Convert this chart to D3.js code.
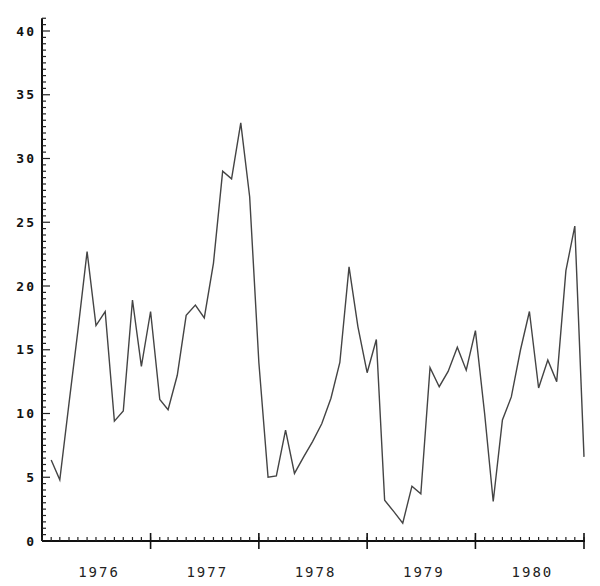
<!DOCTYPE html>
<html>
<head>
<meta charset="utf-8">
<script src="https://cdn.jsdelivr.net/npm/d3@7"></script>
<style>
  html, body { margin: 0; padding: 0; background: #fff; }
  svg { display: block; }
</style>
</head>
<body>
<svg id="chart" width="600" height="586"></svg>
<script>
// ---- data ----
const startYear = 1976;
const yearLabels = ["1976", "1977", "1978", "1979", "1980"];
const yTickLabels = [0, 5, 10, 15, 20, 25, 30, 35, 40];
// monthly values, Jan 1976 .. Dec 1980
const values = [
  6.35, 4.8, 10.8, 16.5, 22.7, 16.9, 18.0, 9.4, 10.2, 18.9, 13.7, 18.0,
  11.1, 10.3, 13.0, 17.7, 18.5, 17.5, 21.8, 29.0, 28.4, 32.8, 27.0, 14.0,
  5.0, 5.1, 8.7, 5.3, 6.6, 7.8, 9.2, 11.2, 14.0, 21.5, 16.8, 13.2,
  15.8, 3.2, 2.3, 1.4, 4.3, 3.7, 13.6, 12.1, 13.3, 15.2, 13.4, 16.5,
  10.0, 3.1, 9.5, 11.3, 15.0, 18.0, 12.0, 14.2, 12.5, 21.2, 24.7, 6.6
];

const svg = d3.select("#chart");

const x = d3.scaleTime()
  .domain([new Date(startYear, 0, 1), new Date(startYear + yearLabels.length, 0, 1)])
  .range([42, 584]);
const y = d3.scaleLinear().domain([0, 40]).range([541, 31]);

const data = values.map((v, i) => ({ date: new Date(startYear, i + 1, 1), v }));

// ---- Y axis ----
const yAxisG = svg.append("g").attr("transform", `translate(${x.range()[0]},0)`);
yAxisG.append("line")
  .attr("x1", 0).attr("x2", 0)
  .attr("y1", y(0)).attr("y2", y(41))
  .attr("stroke", "#111").attr("stroke-width", 2);
const minorY = d3.range(0, 41.01, 0.5);
yAxisG.selectAll("line.ym").data(minorY).enter().append("line")
  .attr("class", "ym")
  .attr("x1", 0)
  .attr("x2", d => (d % 5 === 0 ? 8 : 4))
  .attr("y1", d => y(d)).attr("y2", d => y(d))
  .attr("stroke", "#222").attr("stroke-width", 1.2);

svg.append("g").selectAll("text").data(yTickLabels).enter().append("text")
  .attr("x", 36)
  .attr("y", d => y(d))
  .attr("dy", "0.36em")
  .attr("text-anchor", "end")
  .attr("font-family", "DejaVu Sans Mono, monospace")
  .attr("font-weight", "bold")
  .attr("font-size", 13)
  .attr("letter-spacing", 2)
  .attr("fill", "#111")
  .text(d => d);

// ---- X axis ----
const xAxisG = svg.append("g");
xAxisG.append("line")
  .attr("x1", x.range()[0]).attr("x2", x.range()[1] + 1)
  .attr("y1", y(0)).attr("y2", y(0))
  .attr("stroke", "#111").attr("stroke-width", 2);
const months = d3.timeMonth.range(x.domain()[0], d3.timeMonth.offset(x.domain()[1], 1));
xAxisG.selectAll("line.xm").data(months).enter().append("line")
  .attr("class", "xm")
  .attr("x1", d => x(d)).attr("x2", d => x(d))
  .attr("y1", y(0)).attr("y2", y(0) - 4)
  .attr("stroke", "#222").attr("stroke-width", 1.2);
const years = d3.timeYear.range(d3.timeYear.offset(x.domain()[0], 1), d3.timeYear.offset(x.domain()[1], 1));
xAxisG.selectAll("line.xy").data(years).enter().append("line")
  .attr("class", "xy")
  .attr("x1", d => x(d)).attr("x2", d => x(d))
  .attr("y1", y(0) - 8).attr("y2", y(0) + 8)
  .attr("stroke", "#111").attr("stroke-width", 1.6);

svg.append("g").selectAll("text").data(yearLabels).enter().append("text")
  .attr("x", (d, i) => x(new Date(startYear + i, 6, 1)) + 3)
  .attr("y", 577)
  .attr("text-anchor", "middle")
  .attr("font-family", "DejaVu Sans Mono, monospace")
  .attr("font-size", 14)
  .attr("letter-spacing", 2)
  .attr("fill", "#222")
  .text(d => d);

// ---- line ----
const line = d3.line().x(d => x(d.date)).y(d => y(d.v));
svg.append("path")
  .datum(data)
  .attr("d", line)
  .attr("fill", "none")
  .attr("stroke", "#444")
  .attr("stroke-width", 1.4)
  .attr("stroke-linejoin", "miter");
</script>
</body>
</html>
